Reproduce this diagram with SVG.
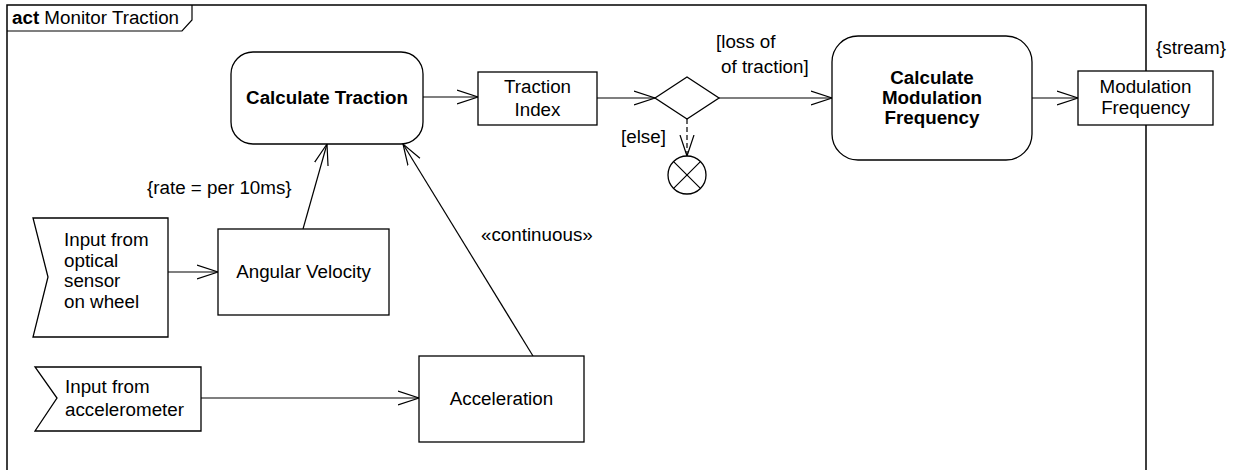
<svg xmlns="http://www.w3.org/2000/svg" width="1237" height="470" viewBox="0 0 1237 470">
<defs>
<marker id="arr" markerUnits="userSpaceOnUse" markerWidth="24" markerHeight="18" refX="21" refY="8" orient="auto" viewBox="0 0 24 18">
<path d="M0,1 L21,8 L0,15" fill="none" stroke="#000" stroke-width="1.2"/>
</marker>
</defs>
<style>
.s{fill:#fff;stroke:#000;stroke-width:1.3}
.t{font-family:"Liberation Sans",Arial,sans-serif;font-size:18.8px;fill:#000}
.b{font-weight:bold}
.c{stroke:#000;stroke-width:1.2;fill:none;marker-end:url(#arr)}
.m{text-anchor:middle}
</style>
<rect width="1237" height="470" fill="#fff"/>
<g id="frame">
<path d="M7,470 L7,5 L1146,5 L1146,470" fill="none" stroke="#000" stroke-width="1.5"/>
<path d="M7,31 L182,31 L192,20 L192,5" fill="none" stroke="#000" stroke-width="1.2"/>
<text class="t" x="12" y="24"><tspan class="b">act</tspan> Monitor Traction</text>
</g>
<g id="connectors">
<line class="c" x1="423" y1="97" x2="478" y2="97"/>
<line class="c" x1="597" y1="98" x2="655" y2="98"/>
<line class="c" x1="719" y1="98" x2="832" y2="98"/>
<line class="c" x1="1032" y1="98" x2="1078" y2="98"/>
<line class="c" x1="687" y1="119" x2="687" y2="156" stroke-dasharray="5,3"/>
<line class="c" x1="168" y1="272" x2="218" y2="272"/>
<line class="c" x1="303" y1="229" x2="327" y2="144"/>
<line class="c" x1="201" y1="398" x2="419" y2="398"/>
<line class="c" x1="533" y1="356" x2="403" y2="144"/>
<text class="t" x="147" y="194">{rate = per 10ms}</text>
<text class="t" x="481" y="241">«continuous»</text>
<text class="t" x="621" y="143">[else]</text>
<text class="t" x="716" y="48">[loss of</text>
<text class="t" x="721" y="73">of traction]</text>
<text class="t" x="1156" y="54">{stream}</text>
</g>
<g id="calc-traction">
<rect class="s" x="231" y="52" width="192" height="92" rx="22"/>
<text class="t b m" x="327" y="104">Calculate Traction</text>
</g>
<g id="traction-index">
<rect class="s" x="478" y="72" width="119" height="53"/>
<text class="t m" x="537.5" y="93">Traction</text>
<text class="t m" x="537.5" y="116">Index</text>
</g>
<g id="decision">
<polygon class="s" points="655,98 687,77 719,98 687,119"/>
</g>
<g id="flow-final">
<circle class="s" cx="687" cy="175" r="19"/>
<path d="M673.6,161.6 L700.4,188.4 M700.4,161.6 L673.6,188.4" stroke="#000" stroke-width="1.2"/>
</g>
<g id="calc-mod-freq">
<rect class="s" x="832" y="36" width="200" height="124" rx="26"/>
<text class="t b m" x="932" y="84">Calculate</text>
<text class="t b m" x="932" y="104">Modulation</text>
<text class="t b m" x="932" y="124">Frequency</text>
</g>
<g id="mod-freq">
<rect class="s" x="1078" y="71" width="135" height="54"/>
<text class="t m" x="1145.5" y="93">Modulation</text>
<text class="t m" x="1145.5" y="114">Frequency</text>
</g>
<g id="input-optical">
<polygon class="s" points="33,218 168,218 168,337 33,337 48,277"/>
<text class="t" x="64" y="246">Input from</text>
<text class="t" x="64" y="267">optical</text>
<text class="t" x="64" y="287">sensor</text>
<text class="t" x="64" y="308">on wheel</text>
</g>
<g id="angular-velocity">
<rect class="s" x="218" y="229" width="171" height="86"/>
<text class="t m" x="303.5" y="278">Angular Velocity</text>
</g>
<g id="input-accel">
<polygon class="s" points="35,367 201,367 201,431 35,431 57,398"/>
<text class="t" x="65" y="393">Input from</text>
<text class="t" x="65" y="416">accelerometer</text>
</g>
<g id="acceleration">
<rect class="s" x="419" y="356" width="165" height="86"/>
<text class="t m" x="501.5" y="405">Acceleration</text>
</g>
</svg>
